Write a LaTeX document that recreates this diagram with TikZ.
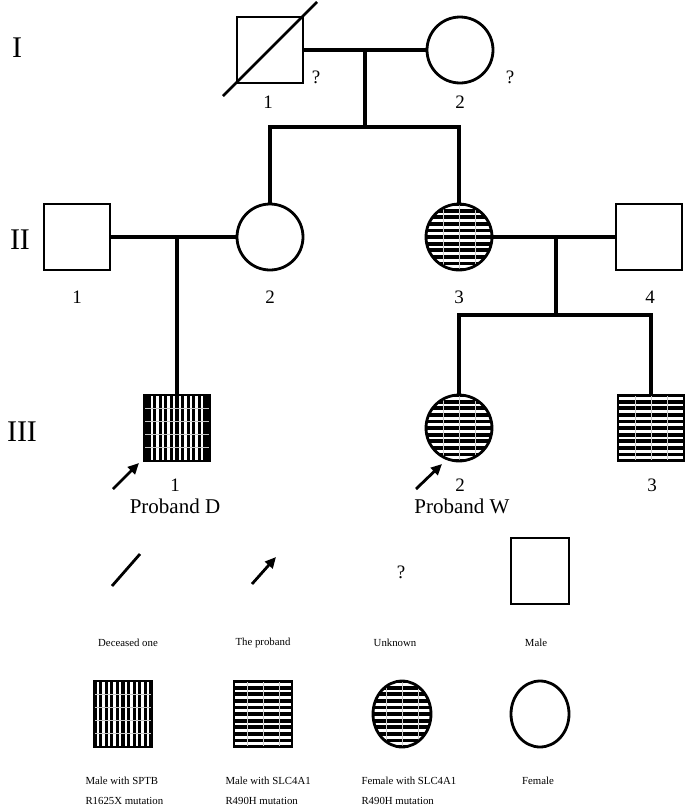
\documentclass[tikz,border=0pt]{standalone}
\usepackage{fontspec}
\setmainfont{Liberation Serif}
\usetikzlibrary{arrows.meta,shapes.geometric}
\tikzset{
  pline/.style={line width=3.3pt},
  outl/.style={draw, line width=2.8pt, inner sep=0pt},
  male/.style={outl, rectangle, minimum width=66pt, minimum height=66pt},
  female/.style={outl, circle, minimum size=66pt},
  lmale/.style={outl, rectangle, minimum width=58pt, minimum height=66pt},
  lfemale/.style={outl, ellipse, minimum width=58pt, minimum height=66pt},
  vstripes/.style={path picture={
    \begin{scope}[shift={(path picture bounding box.center)}]
      \fill[black] (-40,-40) rectangle (40,40);
      \foreach \x in {-25.2,-19.6,...,26} \draw[white, line width=2.4pt] (\x,-40) -- (\x,40);
      \foreach \y in {-20,-7,6,19} \draw[gray!45, line width=0.5pt] (-40,\y) -- (40,\y);
    \end{scope}}},
  hstripes/.style={path picture={
    \begin{scope}[shift={(path picture bounding box.center)}]
      \fill[white] (-40,-40) rectangle (40,40);
      \foreach \y in {-33,-26.4,...,34} \draw[black, line width=3.8pt] (-40,\y) -- (40,\y);
      \foreach \x in {-16,0,16} \draw[gray!40, line width=0.5pt] (\x,-40) -- (\x,40);
    \end{scope}}},
  gen/.style={font=\fontsize{30}{30}\selectfont},
  num/.style={font=\fontsize{19}{19}\selectfont},
  qm/.style={font=\fontsize{19}{19}\selectfont},
  prob/.style={font=\fontsize{21}{21}\selectfont},
  leg/.style={font=\fontsize{10.8}{10.8}\selectfont},
  slash/.style={line width=2.8pt},
  parrow/.style={line width=2.8pt, -{Triangle[length=11pt,width=10pt]}},
}
\begin{document}
\begin{tikzpicture}[x=1pt,y=-1pt]
\useasboundingbox (0,0) rectangle (685,809);
% generation labels
\node[gen] (gI) at (17,48) {I};
\node[gen] (gII) at (20,240) {II};
\node[gen] (gIII) at (22,432) {III};
% Generation I
\node[male] (I1) at (270,50) {};
\node[female] (I2) at (460,50) {};
\coordinate (d1a) at (223,96);
\coordinate (d1b) at (317,2);
\draw[slash] (d1a) -- (d1b);
\node[qm] (q1) at (316,77) {?};
\node[qm] (q2) at (510,77) {?};
\node[num] (nI1) at (268,102) {1};
\node[num] (nI2) at (460,102) {2};
% Generation II
\node[male] (II1) at (77,237) {};
\node[female] (II2) at (270,237) {};
\node[female, hstripes] (II3) at (459,237) {};
\node[male] (II4) at (649,237) {};
\node[num] (nII1) at (77,297) {1};
\node[num] (nII2) at (270,297) {2};
\node[num] (nII3) at (459,297) {3};
\node[num] (nII4) at (650,297) {4};
% Generation III
\node[male, vstripes] (III1) at (177,428) {};
\node[female, hstripes] (III2) at (459,428) {};
\node[male, hstripes] (III3) at (651,428) {};
\node[num] (nIII1) at (175,485) {1};
\node[num] (nIII2) at (460,485) {2};
\node[num] (nIII3) at (652,485) {3};
\node[prob] (pD) at (175,506) {Proband D};
\node[prob] (pW) at (462,506) {Proband W};
\coordinate (a1) at (113,489);
\coordinate (a1e) at (139,463);
\coordinate (a2) at (416,489);
\coordinate (a2e) at (442,464);
\draw[parrow] (a1) -- (a1e);
\draw[parrow] (a2) -- (a2e);
% connections
\coordinate (m1) at (365,50);
\coordinate (s1) at (365,127);
\draw[pline] (I1.east) -- (I2.west);
\draw[pline] (m1) -- (s1);
\draw[pline] (II2.north) -- (II2.north |- s1) -- (II3.north |- s1) -- (II3.north);
\coordinate (m2) at (177,237);
\draw[pline] (II1.east) -- (II2.west);
\draw[pline] (m2) -- (III1.north);
\coordinate (m3) at (556,237);
\coordinate (s3) at (556,315);
\draw[pline] (II3.east) -- (II4.west);
\draw[pline] (m3) -- (s3);
\draw[pline] (III2.north) -- (III2.north |- s3) -- (III3.north |- s3) -- (III3.north);
% Legend row 1
\coordinate (ls1) at (112,586);
\coordinate (ls2) at (140,554);
\draw[slash] (ls1) -- (ls2);
\coordinate (la1) at (252,584);
\coordinate (la2) at (276,557);
\draw[parrow] (la1) -- (la2);
\node[qm] (lq) at (401,572) {?};
\node[lmale] (lm) at (540,571) {};
\node[leg] (t1) at (128,643) {Deceased one};
\node[leg] (t2) at (263,643) {The proband};
\node[leg] (t3) at (395,643) {Unknown};
\node[leg] (t4) at (536,643) {Male};
% Legend row 2
\node[lmale, vstripes] (lv) at (123,714) {};
\node[lmale, hstripes] (lh) at (263,714) {};
\node[lfemale, hstripes] (lfh) at (402,714) {};
\node[lfemale] (lf) at (540,714) {};
\node[leg, anchor=west] (t5) at (82,781) {Male with SPTB};
\node[leg, anchor=west] (t5b) at (82,801) {R1625X mutation};
\node[leg, anchor=west] (t6) at (222,781) {Male with SLC4A1};
\node[leg, anchor=west] (t6b) at (222,801) {R490H mutation};
\node[leg, anchor=west] (t7) at (358,781) {Female with SLC4A1};
\node[leg, anchor=west] (t7b) at (358,801) {R490H mutation};
\node[leg] (t8) at (538,781) {Female};
\end{tikzpicture}
\end{document}
